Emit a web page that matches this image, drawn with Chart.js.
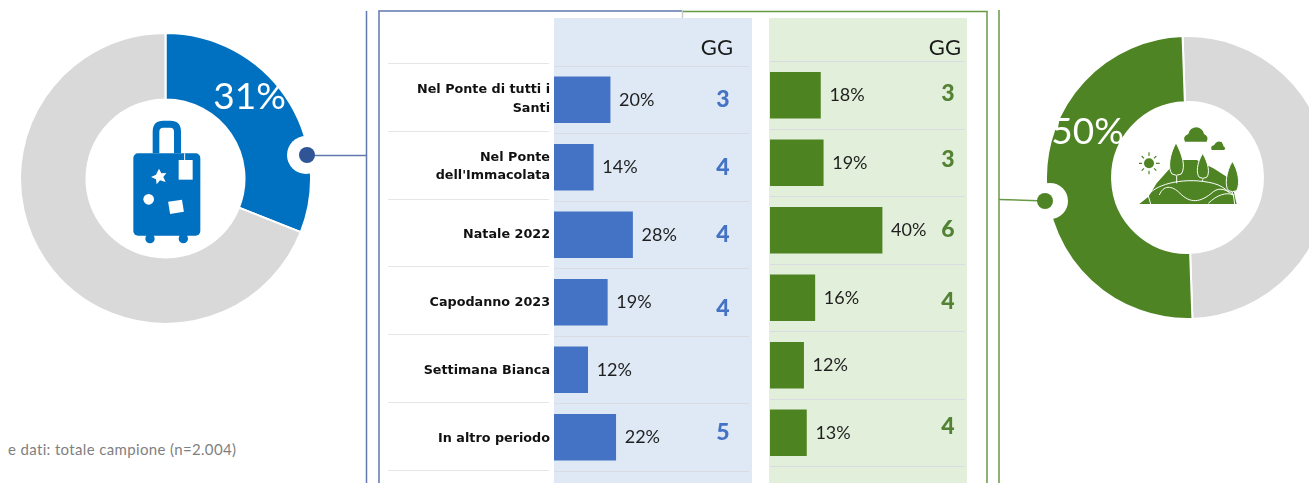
<!DOCTYPE html>
<html>
<head>
<meta charset="utf-8">
<script src="https://cdn.jsdelivr.net/npm/chart.js@4"></script>
<style>
    html, body { margin: 0; padding: 0; background: #fff; }
    #page { position: relative; width: 1309px; height: 483px; overflow: hidden; }
    canvas, svg, .panel, .note { position: absolute; }
    .panel { top: 18px; height: 465px; }
    .note { left: 8px; top: 440px; font: 15px Lato, sans-serif; color: #7f7f7f; letter-spacing: .35px; white-space: nowrap; }
</style>
</head>
<body>
<div id="page">
    <div class="panel" style="left:554px;width:198px;background:#dee9f5"></div>
    <div class="panel" style="left:769px;width:198px;background:#e2efda"></div>
    <canvas id="donutLeft" width="293" height="293" style="left:19px;top:32px"></canvas>
    <canvas id="donutRight" width="285" height="285" style="left:1045px;top:35px"></canvas>
    <canvas id="labels" width="163" height="437" style="left:388px;top:53px"></canvas>
    <canvas id="barsBlue" width="198" height="465" style="left:554px;top:18px"></canvas>
    <canvas id="barsGreen" width="197" height="465" style="left:770px;top:18px"></canvas>
    <div class="note">e dati: totale campione (n=2.004)</div>

    <svg width="1309" height="483" viewBox="0 0 1309 483">
        <!-- frames -->
        <g fill="none" stroke-width="1.5">
            <path d="M366.5 11V483" stroke="#6078b0"/>
            <path d="M379 483V11H682" stroke="#6078b0"/>
            <path d="M682.5 10V18" stroke="#c8ccc8"/>
            <path d="M683 11.5H987V483" stroke="#669a45"/>
            <path d="M999 10V483" stroke="#669a45"/>
        </g>
        <!-- connectors -->
        <circle cx="306" cy="155" r="19" fill="#fff"/>
        <path d="M307 155.5H366.5" stroke="#6078b0" stroke-width="1.5"/>
        <circle cx="307" cy="155" r="8" fill="#2f5597"/>
        <circle cx="1050" cy="201" r="18" fill="#fff"/>
        <path d="M999 199.5L1045 201" stroke="#669a45" stroke-width="1.5"/>
        <circle cx="1045" cy="201" r="8" fill="#4e8423"/>

        <!-- luggage icon, drawn in 3x coords -->
        <g transform="scale(.33333)">
            <path d="M458 460V395Q458 362 490 362H511Q543 362 543 395V460H522V395Q522 383 511 383H490Q478 383 478 395V460Z" fill="#0070c0"/>
            <rect x="400" y="460" width="201" height="247" rx="14" fill="#0070c0"/>
            <circle cx="450" cy="716" r="14" fill="#0070c0"/>
            <circle cx="550" cy="716" r="14" fill="#0070c0"/>
            <rect x="536" y="480" width="42" height="59" fill="#fff"/>
            <path d="M554 460V480" stroke="#fff" stroke-width="3"/>
            <path d="M477 506L484 520L499 519L490 531L497 546L480 541L470 553L468 538L453 531L468 524Z" fill="#fff"/>
            <circle cx="446" cy="598" r="16" fill="#fff"/>
            <rect x="507" y="602" width="42" height="37" transform="rotate(-9 528 620)" fill="#fff"/>
        </g>

        <!-- landscape icon, drawn in 3x coords of the crop at 1000,20 -->
        <g transform="translate(1000 20) scale(.33333)" fill="#4e8423">
            <circle cx="447" cy="430" r="15"/>
            <path d="M447 397V408M447 452V463M417 430H426M468 430H479M425 408L432 415M462 445L469 452M425 452L432 445M462 415L469 408" stroke="#4e8423" stroke-width="3.5" fill="none"/>
            <path d="M555 365Q546 350 565 342Q570 322 590 322Q608 325 612 342Q628 350 620 365Z"/>
            <path d="M635 390Q630 378 642 376Q650 360 665 366Q670 375 670 378Q680 385 672 390Z"/>
            <path d="M418 552L445 530L470 490L510 445L548 420H590L640 445L680 470L700 510L710 552Z"/>
            <g stroke="#fff" stroke-width="3">
                <path d="M528 368C508 405 503 445 516 462Q528 470 544 462C558 440 547 405 528 368Z"/>
                <path d="M608 400C590 430 588 460 598 472Q608 478 620 472C630 460 626 430 608 400Z"/>
                <path d="M697 424C678 455 673 500 686 512Q697 518 710 512C722 490 714 450 697 424Z"/>
                <path d="M445 525C470 490 560 470 640 490C660 495 675 505 688 518M478 525C490 495 515 495 540 520C570 550 600 550 640 515C660 500 680 510 702 525M445 528L452 552M625 550C650 525 680 515 700 525L704 552M530 468V490M608 478V484M697 516V525" fill="none"/>
            </g>
        </g>
    </svg>
</div>

<script>
const categories = [
    ['Nel Ponte di tutti i', 'Santi'],
    ['Nel Ponte', "dell'Immacolata"],
    'Natale 2022',
    'Capodanno 2023',
    'Settimana Bianca',
    'In altro periodo',
];
const bluePct = [20, 14, 28, 19, 12, 22];
const blueDays = [3, 4, 4, 4, null, 5];
const greenPct = [18, 19, 40, 16, 12, 13];
const greenDays = [3, 3, 6, 4, null, 4];
const donutBlue = [31, 69];
const donutGreen = [50, 50];
const daysHeader = 'GG';

const rowLine = '#d9dde3';

// percent next to each bar, GG column on the right
const barText = {
    id: 'barText',
    afterDatasetsDraw(chart, args, opts) {
        const ctx = chart.ctx;
        const bars = chart.getDatasetMeta(0).data;
        ctx.save();
        ctx.textBaseline = 'middle';

        ctx.textAlign = 'left';
        ctx.font = '18px Lato';
        ctx.fillStyle = '#1f1f1f';
        bars.forEach((bar, i) => {
            ctx.fillText(chart.data.datasets[0].data[i] + '%', bar.x + 9, bar.y);
        });

        ctx.textAlign = 'center';
        ctx.font = '900 23px Lato';
        ctx.fillStyle = opts.color;
        bars.forEach((bar, i) => {
            if (opts.days[i] === null) return;
            ctx.fillText(opts.days[i], opts.daysX, bar.y + opts.nudge[i]);
        });

        ctx.textAlign = 'right';
        ctx.font = '22px Lato';
        ctx.fillStyle = '#1a1a1a';
        ctx.fillText(daysHeader, opts.headerX, 30);
        ctx.restore();
    },
};

const donutText = {
    id: 'donutText',
    afterDatasetsDraw(chart, args, opts) {
        const ctx = chart.ctx;
        const arc = chart.getDatasetMeta(0).data[opts.index];
        ctx.save();
        ctx.font = '37px Lato';
        ctx.fillStyle = '#fff';
        ctx.textAlign = 'center';
        ctx.textBaseline = 'middle';
        ctx.fillText(chart.data.datasets[0].data[opts.index] + '%', arc.x + opts.dx, arc.y + opts.dy);
        ctx.restore();
    },
};

const setupDonut = (id, values, colors, rotation, cutout, text) => {
    new Chart(document.querySelector(id), {
        type: 'doughnut',
        data: {
            labels: ['Si', 'No'],
            datasets: [{
                data: values,
                backgroundColor: colors,
                borderColor: '#fff',
                borderWidth: 2,
            }],
        },
        options: {
            responsive: false,
            animation: false,
            rotation: rotation,
            cutout: cutout,
            plugins: {
                legend: { display: false },
                tooltip: false,
                donutText: text,
            },
        },
        plugins: [donutText],
    });
};

const setupBars = (id, values, color, xMax, padding, text) => {
    new Chart(document.querySelector(id), {
        type: 'bar',
        data: {
            labels: categories,
            datasets: [{
                data: values,
                backgroundColor: color,
                barThickness: 46,
            }],
        },
        options: {
            indexAxis: 'y',
            responsive: false,
            animation: false,
            layout: { padding: padding },
            scales: {
                x: { display: false, min: 0, max: xMax },
                y: {
                    border: { display: false },
                    grid: { color: rowLine, drawTicks: false },
                    ticks: { display: false },
                },
            },
            plugins: {
                legend: { display: false },
                tooltip: false,
                barText: text,
            },
        },
        plugins: [barText],
    });
};

setupDonut('#donutLeft', donutBlue, ['#0070c0', '#d9d9d9'], 0, '54.3%', { index: 0, dx: 84, dy: -81 });
setupDonut('#donutRight', donutGreen, ['#d9d9d9', '#4e8423'], -2, '53.3%', { index: 1, dx: -100, dy: -45 });

setupBars('#barsBlue', bluePct, '#4472c4', 69.5, { top: 48, bottom: 12, right: 3 }, {
    days: blueDays,
    color: '#4472c4',
    daysX: 169,
    nudge: [0, 0, 0, 6, 0, -5],
    headerX: 179,
});
setupBars('#barsGreen', greenPct, '#4e8321', 69.6, { top: 43.5, bottom: 16.5, right: 2 }, {
    days: greenDays,
    color: '#548235',
    daysX: 178,
    nudge: [-2, -3, -1, 4, 0, -6],
    headerX: 191,
});

// category labels and their rules, left of the blue panel
new Chart(document.querySelector('#labels'), {
    type: 'bar',
    data: {
        labels: categories,
        datasets: [{ data: bluePct, backgroundColor: 'transparent' }],
    },
    options: {
        indexAxis: 'y',
        responsive: false,
        animation: false,
        layout: { padding: { top: 10, bottom: 2 } },
        scales: {
            x: { display: false, min: 0, max: 100 },
            y: {
                position: 'right',
                border: { display: false },
                grid: { color: '#e6e6e6', drawTicks: false },
                ticks: {
                    mirror: true,
                    padding: 1,
                    labelOffset: 2,
                    color: '#111',
                    font: { family: 'DejaVu Sans', weight: 'bold', size: 12.75, lineHeight: 1.43 },
                },
            },
        },
        plugins: {
            legend: { display: false },
            tooltip: false,
        },
    },
});
</script>
</body>
</html>
